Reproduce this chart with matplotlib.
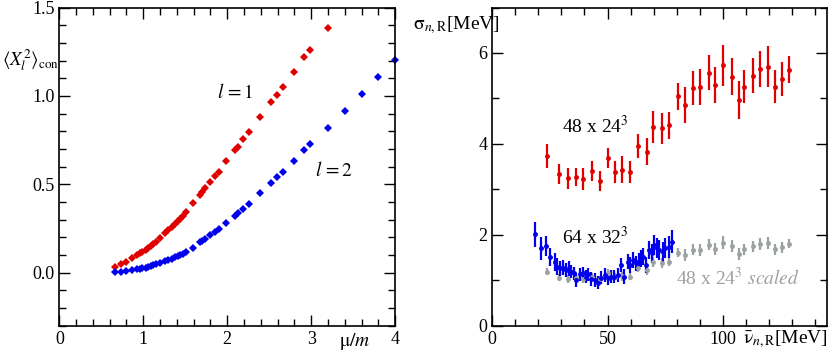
import numpy as np
import matplotlib
matplotlib.use("Agg")
from matplotlib import pyplot as plt
from matplotlib.ticker import MultipleLocator, FormatStrFormatter

plt.rcParams['font.family'] = ['Liberation Serif', 'DejaVu Serif']
plt.rcParams['mathtext.fontset'] = 'stix'
plt.rcParams['font.size'] = 13

# left panel: <X_l^2>_con vs mu/m
mu = [0.66, 0.73, 0.79, 0.87, 0.93, 0.96, 0.99, 1.03, 1.06, 1.09, 1.12, 1.15,
      1.20, 1.26, 1.30, 1.34, 1.38, 1.41, 1.44, 1.47, 1.51, 1.59, 1.68, 1.70,
      1.74, 1.80, 1.86, 1.90, 1.99, 2.09, 2.13, 2.19, 2.26, 2.39, 2.52, 2.59,
      2.66, 2.79, 2.92, 2.99, 3.20, 3.40, 3.60, 3.80, 4.00]
x_l1 = [0.034, 0.047, 0.060, 0.081, 0.099, 0.109, 0.120, 0.131, 0.141, 0.152,
        0.163, 0.175, 0.196, 0.224, 0.240, 0.258, 0.276, 0.290, 0.306, 0.322,
        0.345, 0.392, 0.442, 0.455, 0.478, 0.512, 0.549, 0.568, 0.630, 0.692,
        0.711, 0.755, 0.796, 0.879, 0.964, 1.006, 1.049, 1.136, 1.219, 1.258,
        1.383]
x_l2 = [0.003, 0.006, 0.010, 0.015, 0.019, 0.022, 0.025, 0.029, 0.033, 0.037,
        0.042, 0.047, 0.055, 0.066, 0.073, 0.080, 0.088, 0.094, 0.100, 0.108,
        0.116, 0.142, 0.172, 0.180, 0.192, 0.213, 0.232, 0.245, 0.283, 0.322,
        0.338, 0.362, 0.391, 0.449, 0.508, 0.540, 0.570, 0.630, 0.692, 0.726,
        0.821, 0.917, 1.013, 1.109, 1.204]

# right panel: sigma_n,R vs nu_n,R
nu_48 = [23.6, 29.1, 32.7, 36.5, 39.5, 43.4, 46.9, 50.4, 53.1, 56.3, 59.8,
         63.4, 66.9, 69.9, 73.4, 76.8, 80.5, 83.4, 87.0, 90.2, 93.8, 96.7,
         100.0, 103.8, 106.8, 109.3, 112.9, 116.2, 119.4, 122.4, 125.5, 128.7]
sig_48 = [3.74, 3.33, 3.24, 3.28, 3.23, 3.40, 3.19, 3.68, 3.38, 3.43, 3.38,
          3.96, 3.83, 4.38, 4.34, 4.41, 5.05, 4.85, 5.23, 5.25, 5.57, 5.30,
          5.73, 5.48, 4.96, 5.26, 5.50, 5.65, 5.70, 5.26, 5.43, 5.63]
err_48 = [0.26, 0.22, 0.24, 0.20, 0.25, 0.22, 0.22, 0.22, 0.25, 0.30, 0.25,
          0.26, 0.30, 0.35, 0.35, 0.30, 0.30, 0.40, 0.37, 0.40, 0.38, 0.40,
          0.45, 0.40, 0.42, 0.37, 0.38, 0.40, 0.45, 0.37, 0.37, 0.30]
sig_scaled = [1.19, 1.06, 1.03, 1.05, 1.03, 1.08, 1.02, 1.17, 1.08, 1.09, 1.08,
              1.26, 1.22, 1.40, 1.38, 1.41, 1.61, 1.55, 1.67, 1.67, 1.78, 1.69,
              1.83, 1.75, 1.58, 1.68, 1.75, 1.80, 1.82, 1.68, 1.73, 1.80]
err_scaled = [0.08, 0.07, 0.08, 0.06, 0.08, 0.07, 0.07, 0.07, 0.08, 0.10, 0.08,
              0.08, 0.10, 0.11, 0.11, 0.10, 0.10, 0.13, 0.12, 0.13, 0.12, 0.13,
              0.14, 0.13, 0.13, 0.12, 0.12, 0.13, 0.14, 0.12, 0.12, 0.10]

nu_64 = [18.4, 21.3, 23.5, 25.2, 27.1, 28.1, 29.5, 30.7, 32.1, 33.1, 34.3, 35.4,
         36.4, 37.9, 39.3, 40.5, 41.5, 42.9, 44.4, 45.8, 47.3, 48.7, 50.1, 51.5,
         53.0, 54.4, 55.8, 57.3, 58.7, 59.7, 60.9, 62.3, 63.5, 64.5, 65.5, 66.7,
         68.1, 69.3, 70.3, 71.5, 72.5, 73.9, 75.0, 76.5, 77.9]
sig_64 = [2.01, 1.70, 1.76, 1.52, 1.41, 1.30, 1.26, 1.28, 1.23, 1.26, 1.19, 1.15,
          1.01, 1.13, 1.15, 1.08, 1.13, 1.03, 1.01, 0.95, 1.06, 1.12, 1.04, 1.08,
          1.08, 1.12, 1.34, 1.08, 1.41, 1.34, 1.45, 1.37, 1.42, 1.48, 1.52, 1.34,
          1.67, 1.59, 1.78, 1.70, 1.67, 1.63, 1.70, 1.74, 1.85]
err_64 = [0.28, 0.25, 0.22, 0.20, 0.20, 0.18, 0.17, 0.17, 0.16, 0.16, 0.15, 0.15,
          0.15, 0.15, 0.15, 0.15, 0.15, 0.15, 0.15, 0.15, 0.15, 0.15, 0.15, 0.15,
          0.15, 0.15, 0.16, 0.16, 0.17, 0.17, 0.17, 0.17, 0.18, 0.18, 0.18, 0.18,
          0.20, 0.20, 0.22, 0.22, 0.22, 0.22, 0.22, 0.24, 0.26]

RED = '#e00000'
BLUE = '#0000ee'
GRAY = '#9ca1a3'


def style_axes(ax):
    ax.tick_params(which='both', direction='in', top=True, right=True,
                   width=1.0, labelsize=13)
    ax.tick_params(which='major', length=8)
    ax.tick_params(which='minor', length=5)
    for s in ax.spines.values():
        s.set_linewidth(1.2)


fig = plt.figure(figsize=(8.3, 3.58), dpi=100)
ax1 = fig.add_axes([0.0715, 0.090, 0.4045, 0.889])
ax2 = fig.add_axes([0.593, 0.090, 0.403, 0.889])

# left
ax1.plot(mu[:len(x_l1)], x_l1, 'D', color=RED, ms=3.8, mew=0)
ax1.plot(mu, x_l2, 'D', color=BLUE, ms=3.8, mew=0, clip_on=False)
ax1.set_xlim(0, 4)
ax1.set_ylim(-0.3, 1.5)
ax1.xaxis.set_major_locator(MultipleLocator(1))
ax1.xaxis.set_minor_locator(MultipleLocator(0.2))
ax1.yaxis.set_major_locator(MultipleLocator(0.5))
ax1.yaxis.set_minor_locator(MultipleLocator(0.1))
ax1.yaxis.set_major_formatter(FormatStrFormatter('%.1f'))
style_axes(ax1)
ax1.text(2.1, 1.02, r'$l\,=1$', ha='center', va='center', fontsize=14)
ax1.text(3.27, 0.58, r'$l\,=2$', ha='center', va='center', fontsize=14)
fig.text(0.003, 0.832, r'$\langle X_l^{2}\rangle_{\rm con}$', ha='left',
         va='center', fontsize=13.5)
fig.text(0.427, 0.045, r'$\mathrm{\mu}/m$', ha='center', va='center', fontsize=14)

# right
ax2.errorbar(nu_48, sig_scaled, yerr=err_scaled, fmt='o', color=GRAY, ms=2.5,
             elinewidth=1.6, capsize=0)
ax2.errorbar(nu_48, sig_48, yerr=err_48, fmt='o', color=RED, ms=2.5,
             elinewidth=1.6, capsize=0)
ax2.errorbar(nu_64, sig_64, yerr=err_64, fmt='o', color=BLUE, ms=2.5,
             elinewidth=1.6, capsize=0)
ax2.set_xlim(0, 145)
ax2.set_ylim(0, 7)
ax2.xaxis.set_major_locator(MultipleLocator(50))
ax2.xaxis.set_minor_locator(MultipleLocator(10))
ax2.yaxis.set_major_locator(MultipleLocator(2))
ax2.yaxis.set_minor_locator(MultipleLocator(1))
style_axes(ax2)
ax2.text(44.6, 4.40, r'48 x 24$^3$', ha='center', va='center', fontsize=14)
ax2.text(44.6, 1.95, r'64 x 32$^3$', ha='center', va='center', fontsize=14)
ax2.text(106.4, 1.04, r'48 x 24$^3$ $\it{scaled}$', ha='center', va='center',
         fontsize=14, color=GRAY)
fig.text(0.498, 0.930, r'$\mathrm{\sigma}_{n,\mathrm{R}}$[MeV]', ha='left',
         va='center', fontsize=14)
fig.text(0.997, 0.052, r'$\bar{\mathrm{\nu}}_{n,\mathrm{R}}$[MeV]', ha='right',
         va='center', fontsize=14)

fig.savefig('out.png', dpi=100)
